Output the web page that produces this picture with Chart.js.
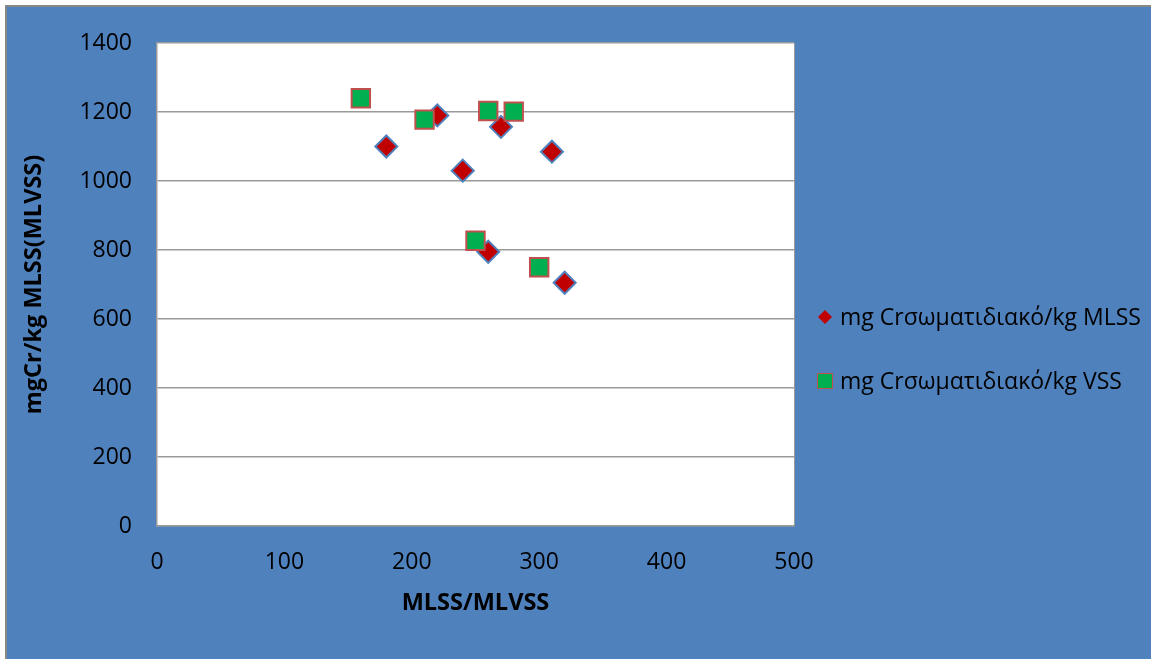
<!DOCTYPE html>
<html>
<head>
<meta charset="utf-8">
<title>mgCr/kg MLSS(MLVSS)</title>
<script src="https://cdn.jsdelivr.net/npm/chart.js@4/dist/chart.umd.min.js"></script>
<style>
  html, body { margin: 0; padding: 0; background: #ffffff; }
  #wrap { position: relative; width: 1151px; height: 659px; }
</style>
</head>
<body>
<div id="wrap"><canvas id="chart" width="1151" height="659"></canvas></div>
<script>
// Series: chromium on solids vs. MLSS/MLVSS
const seriesNames = ['mg Crσωματιδιακό/kg MLSS', 'mg Crσωματιδιακό/kg VSS'];

const mlssX = [180, 220, 240, 270, 310, 260, 320];
const mlssY = [1100, 1190, 1030, 1157, 1085, 795, 705];

const vssX = [160, 210, 260, 280, 250, 300];
const vssY = [1240, 1178, 1203, 1201, 827, 750];

const xTicks = [0, 100, 200, 300, 400, 500];
const yTicks = [0, 200, 400, 600, 800, 1000, 1200, 1400];

const xTitle = 'MLSS/MLVSS';
const yTitle = 'mgCr/kg MLSS(MLVSS)';

const toPoints = (xs, ys) => xs.map((x, i) => ({ x: x, y: ys[i] }));

const FONT = '"Open Sans", "DejaVu Sans", sans-serif';
const BLUE = '#4F81BD';
const GRID = '#9a9a9a';

// Frame: white page, blue chart panel with grey top/left edge, white plot area
const framePlugin = {
  id: 'frame',
  beforeDraw(chart) {
    const { ctx, width, height, chartArea } = chart;
    ctx.save();
    ctx.fillStyle = '#ffffff';
    ctx.fillRect(0, 0, width, height);
    ctx.fillStyle = BLUE;
    ctx.fillRect(7, 7, width - 7, height - 7);
    ctx.fillStyle = '#878787';
    ctx.fillRect(5, 5, 2, height - 5);
    ctx.fillRect(5, 5, width - 5, 2);
    ctx.fillStyle = '#ffffff';
    ctx.fillRect(chartArea.left, chartArea.top,
                 chartArea.right - chartArea.left, chartArea.bottom - chartArea.top);
    ctx.restore();
  }
};

// Legend drawn to the right of the plot area
const sideLegend = {
  id: 'sideLegend',
  afterDraw(chart) {
    const { ctx, chartArea } = chart;
    const x0 = chartArea.right + 31;
    const rows = [317, 381];
    ctx.save();
    chart.data.datasets.forEach((ds, i) => {
      const cy = rows[i];
      ctx.beginPath();
      if (ds.pointStyle === 'rectRot') {
        const r = 7;
        ctx.moveTo(x0 - r, cy);
        ctx.lineTo(x0, cy - r);
        ctx.lineTo(x0 + r, cy);
        ctx.lineTo(x0, cy + r);
        ctx.closePath();
        ctx.fillStyle = ds.backgroundColor;
        ctx.fill();
      } else {
        const s = 15;
        ctx.rect(x0 - s / 2, cy - s / 2, s, s);
        ctx.fillStyle = ds.backgroundColor;
        ctx.fill();
        ctx.lineWidth = 1;
        ctx.strokeStyle = ds.borderColor;
        ctx.stroke();
      }
      ctx.fillStyle = '#000000';
      ctx.font = '23px ' + FONT;
      ctx.textAlign = 'left';
      ctx.textBaseline = 'middle';
      ctx.fillText(ds.label, x0 + 15, cy + 1);
    });
    ctx.restore();
  }
};

const plainNumber = v => String(v);

new Chart(document.getElementById('chart'), {
  type: 'scatter',
  data: {
    datasets: [
      {
        label: seriesNames[0],
        data: toPoints(mlssX, mlssY),
        pointStyle: 'rectRot',
        pointRadius: 11,
        pointHoverRadius: 11,
        backgroundColor: '#C00000',
        borderColor: BLUE,
        borderWidth: 2,
        order: 1
      },
      {
        label: seriesNames[1],
        data: toPoints(vssX, vssY),
        pointStyle: 'rect',
        pointRadius: 13,
        pointHoverRadius: 13,
        backgroundColor: '#00B050',
        borderColor: '#C0504D',
        borderWidth: 2,
        order: 0
      }
    ]
  },
  options: {
    responsive: false,
    animation: false,
    events: [],
    layout: { padding: { left: 7, top: 43, right: 357, bottom: 0 } },
    plugins: {
      legend: { display: false },
      tooltip: { enabled: false }
    },
    scales: {
      x: {
        type: 'linear',
        min: xTicks[0],
        max: xTicks[xTicks.length - 1],
        afterBuildTicks(scale) { scale.ticks = xTicks.map(v => ({ value: v })); },
        afterFit(scale) { scale.height = 133; },
        grid: {
          drawTicks: false,
          color: ctx => (ctx.tick && ctx.tick.value === xTicks[xTicks.length - 1]) ? GRID : 'rgba(0,0,0,0)',
          lineWidth: 1
        },
        border: { display: true, color: GRID, width: 1.5 },
        ticks: {
          padding: 23,
          color: '#000000',
          font: { family: FONT, size: 23 },
          maxRotation: 0,
          callback: plainNumber
        },
        title: {
          display: true,
          text: xTitle,
          color: '#000000',
          font: { family: FONT, size: 23.5, weight: 'bold' },
          padding: { top: 0, bottom: 42 }
        }
      },
      y: {
        type: 'linear',
        min: yTicks[0],
        max: yTicks[yTicks.length - 1],
        afterBuildTicks(scale) { scale.ticks = yTicks.map(v => ({ value: v })); },
        afterFit(scale) { scale.width = 150; },
        grid: { drawTicks: false, color: GRID, lineWidth: 1.5 },
        border: { display: true, color: GRID, width: 1.5 },
        ticks: {
          padding: 25,
          color: '#000000',
          font: { family: FONT, size: 23 },
          callback: plainNumber
        },
        title: {
          display: true,
          text: yTitle,
          color: '#000000',
          font: { family: FONT, size: 23.5, weight: 'bold' },
          padding: { top: 13, bottom: 0 }
        }
      }
    }
  },
  plugins: [framePlugin, sideLegend]
});
</script>
</body>
</html>
